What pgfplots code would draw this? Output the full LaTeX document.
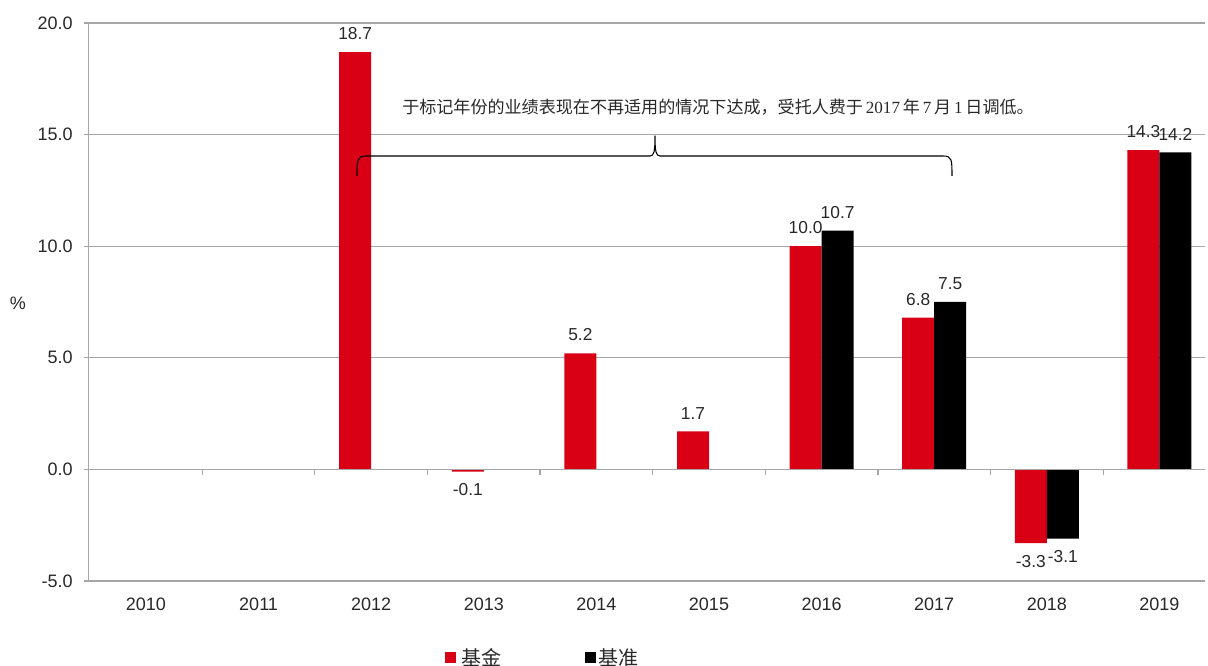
\documentclass[border=0pt]{standalone}
\usepackage{fontspec}
\setmainfont{Liberation Sans}
\newfontfamily\cjk{Noto Sans CJK SC}
\newfontfamily\serif{Liberation Serif}
\usepackage{pgfplots}
\pgfplotsset{compat=1.18}
\definecolor{fundred}{RGB}{217,0,22}
\definecolor{gridgray}{RGB}{166,166,166}
\definecolor{txt}{RGB}{40,40,40}

\pgfplotstableread{
x y
2 18.7
3 -0.1
4 5.2
5 1.7
6 10.0
7 6.8
8 -3.3
9 14.3
}\fund
\pgfplotstableread{
x y
6 10.7
7 7.5
8 -3.1
9 14.2
}\bench

\begin{document}
\begin{tikzpicture}[x=1pt,y=1pt]
\useasboundingbox (-66,-63.75) rectangle (840,435.75);
\begin{axis}[
  at={(0,0)}, anchor=south west,
  scale only axis, width=837.75pt, height=418.5pt,
  ymin=-5, ymax=20, xmin=-0.515, xmax=9.405,
  ytick={-5,0,5,10,15,20},
  yticklabel={\pgfmathprintnumber[fixed,fixed zerofill,precision=1,assume math mode=true]{\tick}},
  xtick={0,...,9},
  xticklabels={2010,2011,2012,2013,2014,2015,2016,2017,2018,2019},
  axis lines*=left,
  axis line style={draw=gridgray,-},
  ymajorgrids, grid style={gridgray, line width=0.9pt},
  ytick style={draw=gridgray, line width=0.9pt},
  xtick style={draw=none},
  tick align=outside, major tick length=3pt,
  ticklabel style={font=\fontsize{13.5}{15}\selectfont, text=txt},
  yticklabel style={xshift=-5pt},
  xticklabel style={yshift=-6pt},
  ybar=0pt, bar width=24pt,
  nodes near coords={\pgfmathprintnumber[fixed,fixed zerofill,precision=1,assume math mode=true]{\pgfplotspointmeta}},
  every node near coord/.append style={font=\fontsize{13}{15}\selectfont, text=txt, inner ysep=9pt, inner xsep=1pt},
  clip=false,
]
\addplot[draw=none, fill=fundred] table[x=x,y=y] {\fund};
\addplot[draw=none, fill=black] table[x=x,y=y] {\bench};
\draw[gridgray, line width=0.9pt] (axis cs:-0.515,0) -- (axis cs:9.405,0);
\pgfplotsinvokeforeach{0.5,1.5,2.5,3.5,4.5,5.5,6.5,7.5,8.5}{
  \draw[gridgray, line width=0.9pt] (axis cs:#1,0) -- ([yshift=-4pt]axis cs:#1,0);
}
\end{axis}
\node[font=\fontsize{13.5}{15}\selectfont, text=txt] at (-52.5,208.5) {\%};
\draw[line width=0.8pt] (201.75,303.75) .. controls (201.75,316) and (202,318.75) .. (208.5,318.75)
  -- (421.5,318.75) .. controls (424.5,318.75) and (425.25,322) .. (425.25,334)
  .. controls (425.25,322) and (426,318.75) .. (429,318.75)
  -- (641.25,318.75) .. controls (648,318.75) and (648,316) .. (648,303.75);
\node[font=\fontsize{12.8}{14}\selectfont, text=txt] at (472.5,355)
  {\cjk 于标记年份的业绩表现在不再适用的情况下达成，受托人费于\,{\serif 2017}\,年\,{\serif 7}\,月\,{\serif 1}\,日调低。};
\fill[fundred] (267.75,-61.875) rectangle (276,-53.625);
\node[anchor=west, inner sep=0pt, font=\cjk\fontsize{15}{17}\selectfont, text=txt] at (279.75,-57.75) {基金};
\fill[black] (372.375,-61.875) rectangle (380.625,-53.625);
\node[anchor=west, inner sep=0pt, font=\cjk\fontsize{15}{17}\selectfont, text=txt] at (382.5,-57.75) {基准};
\end{tikzpicture}
\end{document}
